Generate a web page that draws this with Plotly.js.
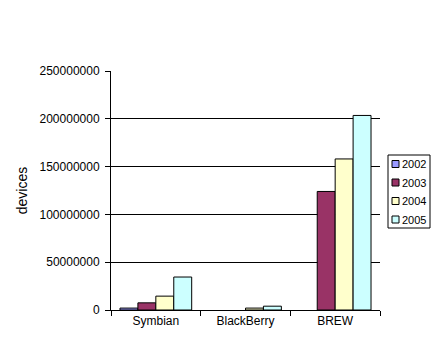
<!DOCTYPE html>
<html><head><meta charset="utf-8">
<script src="https://cdn.plot.ly/plotly-3.0.1.min.js"></script>
<style>html,body{margin:0;padding:0;background:#fff}#chart{width:435px;height:351px}</style>
</head><body><div id="chart"></div>
<script>
const categories = ["Symbian", "BlackBerry", "BREW"];
const years = ["2002", "2003", "2004", "2005"];
const v2002 = [2000000, null, null];
const v2003 = [7500000, null, 124000000];
const v2004 = [14500000, 2000000, 158000000];
const v2005 = [34500000, 4000000, 203500000];
const yTicks = [0, 50000000, 100000000, 150000000, 200000000, 250000000];
const colors = ["#9999FF", "#993366", "#FFFFCC", "#CCFFFF"];
const series = [v2002, v2003, v2004, v2005];

const FF = "Liberation Sans, Arial, sans-serif";
const traces = series.map((vals, i) => ({
  type: "bar", name: years[i], x: categories, y: vals, showlegend: false,
  marker: {color: colors[i], line: {color: "#000", width: 1}}
}));

// manual legend (Excel-style compact box), in paper coordinates
const L = 111, W = 269, B = 310, H = 239;
const px = x => (x - L) / W, py = y => (B - y) / H;
const shapes = [{type: "rect", xref: "paper", yref: "paper",
  x0: px(388), x1: px(430), y0: py(228), y1: py(155),
  line: {color: "#000", width: 1}, fillcolor: "#fff"}];
const annotations = [];
years.forEach((yr, i) => {
  const cy = 164 + i * 18.5;
  shapes.push({type: "rect", xref: "paper", yref: "paper",
    x0: px(392), x1: px(399), y0: py(cy + 3.5), y1: py(cy - 3.5),
    line: {color: "#000", width: 1}, fillcolor: colors[i]});
  annotations.push({xref: "paper", yref: "paper", x: px(399.5), y: py(cy),
    xanchor: "left", yanchor: "middle", text: yr, showarrow: false,
    font: {family: FF, size: 11, color: "#000"}});
});

Plotly.newPlot("chart", traces, {
  width: 435, height: 351,
  margin: {l: 111, r: 55, t: 71, b: 41, autoexpand: false},
  paper_bgcolor: "#fff", plot_bgcolor: "#fff",
  font: {family: FF, size: 12, color: "#000"},
  barmode: "group", bargap: 0.2, bargroupgap: 0,
  showlegend: false,
  shapes: shapes, annotations: annotations,
  xaxis: {showline: true, linecolor: "#000", linewidth: 1, ticks: "outside",
    tickson: "boundaries", ticklen: 5, tickcolor: "#000", showgrid: false,
    tickfont: {family: FF, size: 12}},
  yaxis: {range: [0, 250000000], tickvals: yTicks, ticktext: yTicks.map(String),
    showline: true, linecolor: "#000", linewidth: 1, ticks: "outside", ticklen: 5,
    tickcolor: "#000", showgrid: true, gridcolor: "#000", gridwidth: 1,
    zeroline: false, tickfont: {family: FF, size: 12}, ticklabelstandoff: 3,
    title: {text: "devices", font: {family: FF, size: 14}, standoff: 8}}
}, {staticPlot: true});
</script></body></html>
